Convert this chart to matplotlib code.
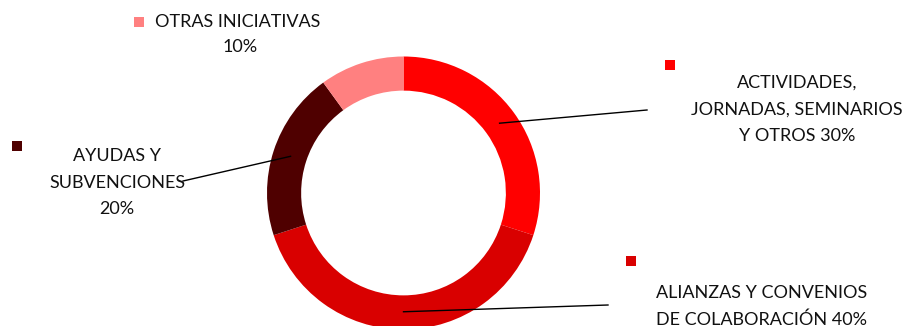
import numpy as np
import matplotlib.pyplot as plt

labels = ['ACTIVIDADES,\nJORNADAS, SEMINARIOS\nY OTROS 30%',
          'ALIANZAS Y CONVENIOS\nDE COLABORACIÓN 40%',
          'AYUDAS Y\nSUBVENCIONES\n20%',
          'OTRAS INICIATIVAS\n10%']
values = [30, 40, 20, 10]
colors = ['#FF0000', '#D90000', '#4F0000', '#FF8080']

W, H = 907, 326
fig = plt.figure(figsize=(W / 100, H / 100), dpi=100)
ax = fig.add_axes([0, 0, 1, 1])

# pixel positions measured from the top; flip to data y
def fy(py):
    return H - py

cx, cy, R = 403.5, fy(193), 136.5
wedges, _ = ax.pie(values, colors=colors, startangle=90, counterclock=False,
                   radius=R, center=(cx, cy),
                   wedgeprops=dict(width=R * 0.25, linewidth=0))
ax.set_xlim(0, W)
ax.set_ylim(0, H)
ax.set_aspect('equal')
ax.axis('off')

# (marker x, marker y, text x, first line y, leader end)
layout = [
    (670, 65, 797, 83, (647, 110)),
    (631, 261, 762, 293, (608, 305)),
    (17, 146, 117, 156, (183, 181)),
    (139, 22, 240, 22, None),
]

fam = ['Lato', 'DejaVu Sans']
fs = 13
for w, lab, c, (mx, my, tx, ty, end) in zip(wedges, labels, colors, layout):
    ax.scatter([mx], [fy(my)], marker='s', s=60, color=c, linewidths=0)
    lines = lab.split('\n')
    if lab.startswith('OTRAS'):
        ax.text(155, fy(ty), lines[0], ha='left', va='center',
                fontsize=fs, color='#111111', family=fam)
        ax.text(tx, fy(ty + 25), lines[1], ha='center', va='center',
                fontsize=fs, color='#111111', family=fam)
    else:
        for i, line in enumerate(lines):
            ax.text(tx, fy(ty + i * 26.5), line, ha='center', va='center',
                    fontsize=fs, color='#111111', family=fam)
    if end is not None:
        mid = np.deg2rad((w.theta1 + w.theta2) / 2)
        r = R * 0.87
        sx, sy = w.center[0] + r * np.cos(mid), w.center[1] + r * np.sin(mid)
        ax.plot([sx, end[0]], [sy, fy(end[1])], color='black', lw=1)

fig.savefig('out.png', dpi=100)
